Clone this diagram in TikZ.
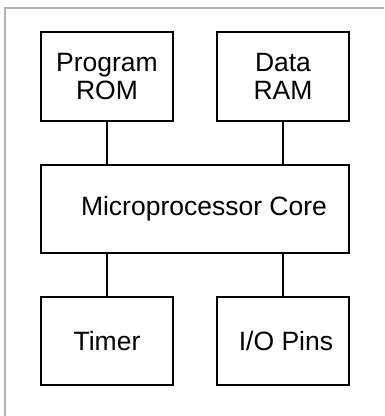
\documentclass[tikz,border=0pt]{standalone}
\usepackage{fontspec}
\setmainfont{Liberation Sans}
\begin{document}
\begin{tikzpicture}[x=1pt,y=-1pt,
		block/.style={draw,line width=1.8pt,inner sep=0pt,minimum width=132pt,minimum height=89pt,align=center,font=\fontsize{26.5}{28}\selectfont},
		link/.style={line width=1.8pt}]
			\useasboundingbox (0,0) rectangle (384,416);
			\draw[gray!60,line width=2pt] (5,416) -- (5,8) -- (384,8);
			\node[block] (rom) at (107,76.5) {Program\\ROM};
			\node[block] (ram) at (283,76.5) {Data\\RAM};
			\node[block,minimum width=308pt,minimum height=88pt] (core) at (195,209) {\hspace{18pt}Microprocessor Core};
			\node[block,minimum height=88pt] (timer) at (107,341) {Timer};
			\node[block,minimum height=88pt] (io) at (283,341) {\hspace{6pt}I/O Pins};
			\draw[link] (rom.south) -- (rom.south |- core.north);
			\draw[link] (ram.south) -- (ram.south |- core.north);
			\draw[link] (timer.north) -- (timer.north |- core.south);
			\draw[link] (io.north) -- (io.north |- core.south);
		\end{tikzpicture}
\end{document}
